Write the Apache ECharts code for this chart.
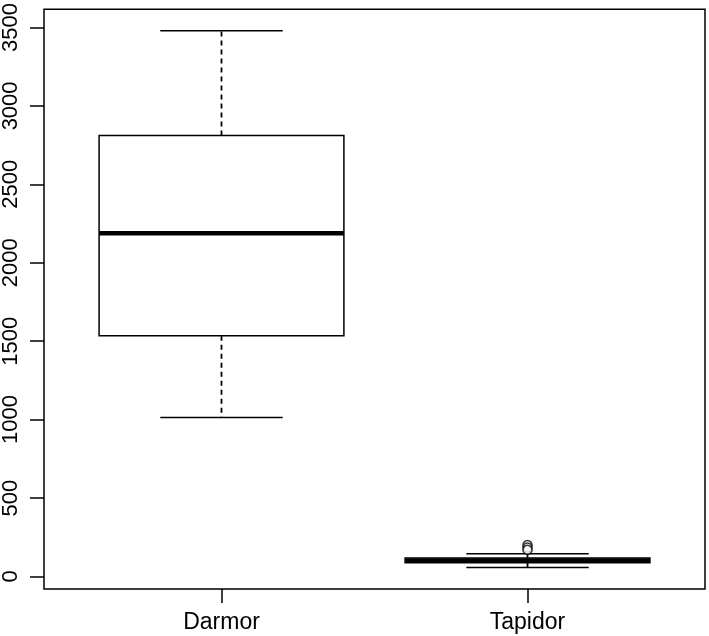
<!DOCTYPE html>
<html>
<head>
<meta charset="utf-8">
<script src="https://cdn.jsdelivr.net/npm/echarts@6/dist/echarts.min.js"></script>
<style>html,body{margin:0;padding:0;background:#fff}#c{width:709px;height:636px}</style>
</head>
<body>
<div id="c"></div>
<script>
var categories = ['Darmor', 'Tapidor'];
var positions = [1, 2];
var whiskerLow = [1013, 57];
var q1 = [1535, 88];
var median = [2188, 102];
var q3 = [2812, 118];
var whiskerHigh = [3479, 144];
var outliers = [[2, 200], [2, 185], [2, 170]];
var yTicks = [0, 500, 1000, 1500, 2000, 2500, 3000, 3500];

var boxData = positions.map(function (p, i) {
  return [p, whiskerLow[i], q1[i], median[i], q3[i], whiskerHigh[i]];
});

var chart = echarts.init(document.getElementById('c'));
var font = 'Liberation Sans, Arial, Helvetica, sans-serif';
chart.setOption({
  animation: false,
  backgroundColor: '#fff',
  grid: { left: 41, right: 4, top: 6, bottom: 47, show: true, borderColor: '#000', borderWidth: 1.5, backgroundColor: 'transparent' },
  xAxis: {
    type: 'value', min: 0.42, max: 2.58,
    splitLine: { show: false },
    axisLine: { show: false, onZero: false },
    axisTick: { show: true, length: 14, customValues: positions, lineStyle: { color: '#000', width: 1.5 } },
    axisLabel: {
      customValues: positions, margin: 22, color: '#000', fontSize: 23, fontFamily: font,
      formatter: function (v) { var i = positions.indexOf(v); return i >= 0 ? categories[i] : ''; }
    }
  },
  yAxis: {
    type: 'value', min: -80, max: 3616,
    splitLine: { show: false },
    axisLine: { show: false, onZero: false },
    axisTick: { show: true, length: 14, customValues: yTicks, lineStyle: { color: '#000', width: 1.5 } },
    axisLabel: {
      customValues: yTicks, rotate: 90, margin: 22, color: '#000', fontSize: 22, fontFamily: font,
      formatter: function (v) { return String(v); }
    }
  },
  series: [{
    type: 'custom',
    data: boxData,
    encode: { x: 0, y: [1, 2, 3, 4, 5] },
    renderItem: function (params, api) {
      var x = api.value(0);
      var half = api.size([0.4, 0])[0];
      var capHalf = api.size([0.2, 0])[0];
      var pLow = api.coord([x, api.value(1)]);
      var pQ1 = api.coord([x, api.value(2)]);
      var pMed = api.coord([x, api.value(3)]);
      var pQ3 = api.coord([x, api.value(4)]);
      var pHigh = api.coord([x, api.value(5)]);
      var cx = pMed[0];
      var solid = { stroke: '#000', lineWidth: 1.5, fill: null };
      var dashed = { stroke: '#000', lineWidth: 1.8, lineDash: [5, 4] };
      return {
        type: 'group',
        children: [
          { type: 'line', shape: { x1: cx, y1: pQ3[1], x2: cx, y2: pHigh[1] }, style: dashed },
          { type: 'line', shape: { x1: cx, y1: pQ1[1], x2: cx, y2: pLow[1] }, style: dashed },
          { type: 'line', shape: { x1: cx - capHalf, y1: pHigh[1], x2: cx + capHalf, y2: pHigh[1] }, style: solid },
          { type: 'line', shape: { x1: cx - capHalf, y1: pLow[1], x2: cx + capHalf, y2: pLow[1] }, style: solid },
          { type: 'rect', shape: { x: cx - half, y: pQ3[1], width: half * 2, height: pQ1[1] - pQ3[1] }, style: { stroke: '#000', lineWidth: 1.5, fill: '#fff' } },
          { type: 'line', shape: { x1: cx - half, y1: pMed[1], x2: cx + half, y2: pMed[1] }, style: { stroke: '#000', lineWidth: 4.5 } }
        ]
      };
    }
  }, {
    type: 'scatter',
    data: outliers,
    symbol: 'circle',
    symbolSize: 9,
    itemStyle: { color: '#fff', borderColor: '#000', borderWidth: 1.5 }
  }]
});
</script>
</body>
</html>
